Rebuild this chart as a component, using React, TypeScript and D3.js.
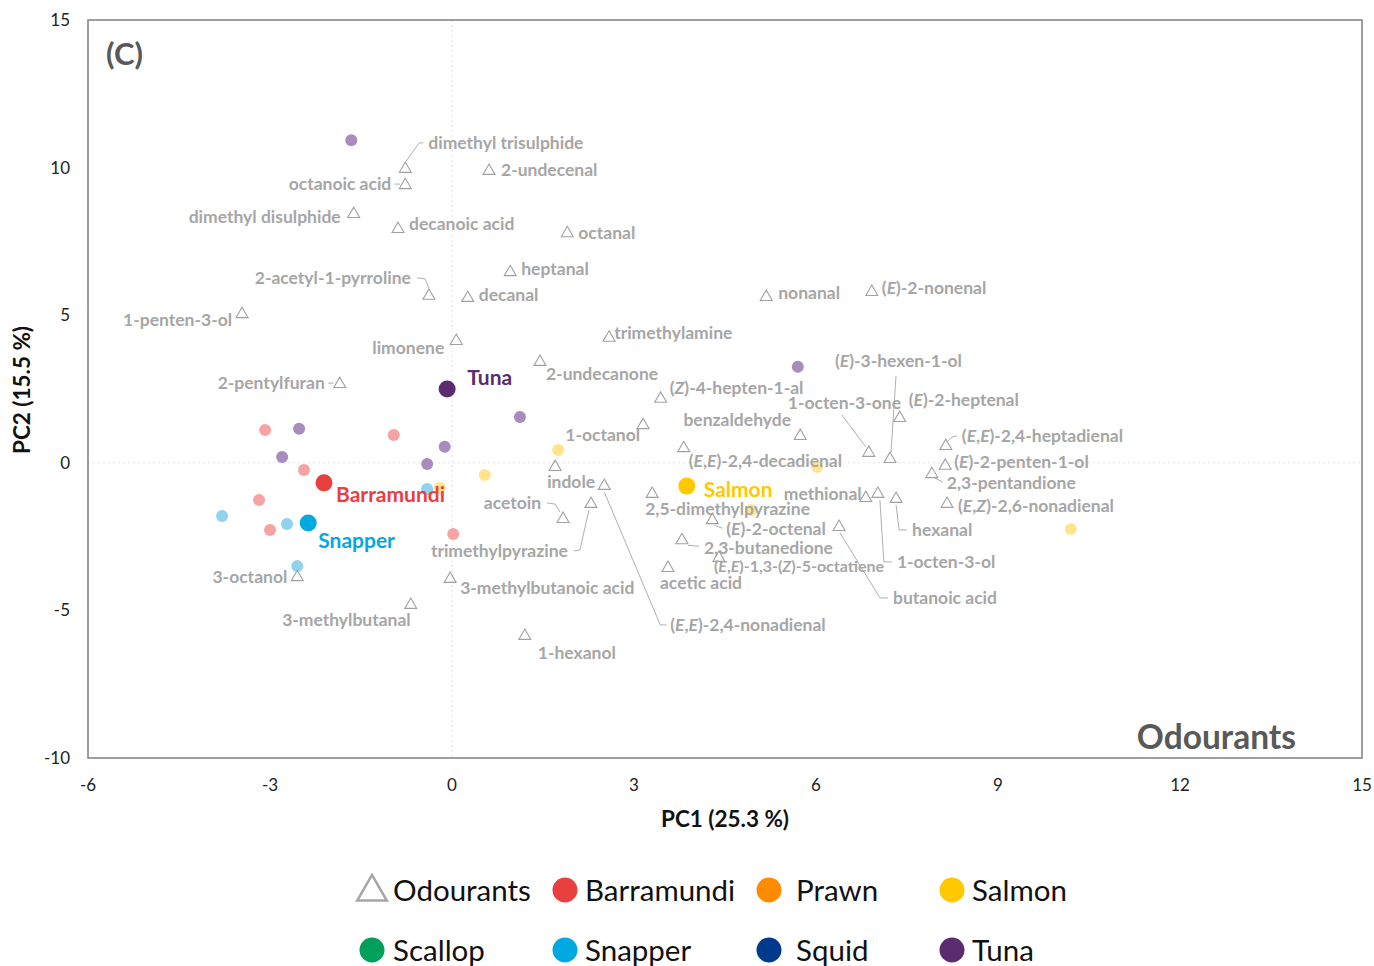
import React from "react";
import * as d3 from "d3";

// ---------- data ----------
const odourNames = [
  "dimethyl trisulphide", "octanoic acid", "2-undecenal", "dimethyl disulphide", "decanoic acid",
  "octanal", "heptanal", "2-acetyl-1-pyrroline", "decanal", "1-penten-3-ol",
  "nonanal", "(E)-2-nonenal", "limonene", "trimethylamine", "2-undecanone",
  "2-pentylfuran", "(Z)-4-hepten-1-al", "(E)-3-hexen-1-ol", "1-octen-3-one", "(E)-2-heptenal",
  "benzaldehyde", "(E,E)-2,4-heptadienal", "(E)-2-penten-1-ol", "2,3-pentandione", "(E,Z)-2,6-nonadienal",
  "hexanal", "1-octen-3-ol", "methional", "butanoic acid", "1-octanol",
  "(E,E)-2,4-decadienal", "indole", "(E,E)-2,4-nonadienal", "acetoin", "trimethylpyrazine",
  "2,5-dimethylpyrazine", "(E)-2-octenal", "2,3-butanedione", "(E,E)-1,3-(Z)-5-octatiene", "acetic acid",
  "3-octanol", "3-methylbutanoic acid", "3-methylbutanal", "1-hexanol",
];
const odourPC1 = [
  -0.77, -0.77, 0.61, -1.62, -0.89,
  1.90, 0.96, -0.38, 0.26, -3.46,
  5.18, 6.92, 0.07, 2.59, 1.45,
  -1.85, 3.44, 7.22, 6.87, 7.38,
  5.74, 8.14, 8.13, 7.91, 8.16,
  7.32, 7.02, 6.82, 6.38, 3.15,
  3.82, 1.70, 2.51, 1.83, 2.29,
  3.30, 4.29, 3.79, 4.40, 3.56,
  -2.55, -0.03, -0.68, 1.20,
];
const odourPC2 = [
  9.99, 9.44, 9.92, 8.46, 7.95,
  7.81, 6.49, 5.69, 5.62, 5.07,
  5.65, 5.82, 4.16, 4.27, 3.45,
  2.70, 2.20, 0.16, 0.37, 1.55,
  0.94, 0.60, -0.07, -0.35, -1.36,
  -1.19, -1.02, -1.16, -2.14, 1.31,
  0.53, -0.11, -0.75, -1.87, -1.36,
  -1.02, -1.91, -2.59, -3.19, -3.53,
  -3.84, -3.90, -4.78, -5.83,
];

const groupNames = ["Barramundi", "Snapper", "Salmon", "Tuna"];
const groupPC1 = [-2.11, -2.37, 3.87, -0.08];
const groupPC2 = [-0.68, -2.04, -0.79, 2.50];

const barramundiPC1 = [-3.08, -0.96, -2.44, -3.18, -3.0, 0.02];
const barramundiPC2 = [1.11, 0.94, -0.24, -1.26, -2.28, -2.41];
const snapperPC1 = [-3.79, -2.72, -2.55, -0.41];
const snapperPC2 = [-1.8, -2.07, -3.5, -0.89];
const salmonPC1 = [1.75, 0.54, -0.2, 6.02, 4.93, 10.2];
const salmonPC2 = [0.43, -0.41, -0.85, -0.14, -1.6, -2.24];
const tunaPC1 = [-1.66, 5.7, 1.12, -2.52, -2.8, -0.12, -0.41];
const tunaPC2 = [10.93, 3.25, 1.55, 1.15, 0.2, 0.54, -0.04];

const xTicks = [-6, -3, 0, 3, 6, 9, 12, 15];
const yTicks = [-10, -5, 0, 5, 10, 15];

const legendNames = ["Odourants", "Barramundi", "Prawn", "Salmon", "Scallop", "Snapper", "Squid", "Tuna"];

// ---------- styling / layout (not data) ----------
const W = 1374, H = 966;
const PL = 88, PT = 20, PW = 1274, PH = 738;
const FONT = "Lato, 'Open Sans', sans-serif";
const GRAY = "#a6a6a6";

const groupColor: Record<string, string> = {
  Barramundi: "#e8403f", Snapper: "#00a9e0", Salmon: "#ffc800", Tuna: "#5b2c6f",
  Prawn: "#ff8c00", Scallop: "#00a05a", Squid: "#003a8c",
};
const lightColor: Record<string, string> = {
  Barramundi: "#f8a3a3", Snapper: "#8fd3ef", Salmon: "#ffe48c", Tuna: "#a98bbd",
};
// label placement relative to triangle (px): dx, dy, anchor, optional leader polyline (relative px), font size
type LP = { dx: number; dy: number; a?: "start" | "end" | "middle"; lead?: [number, number][]; fs?: number };
const labelPlace: LP[] = [
  { dx: 23, dy: -25, lead: [[18, -25], [14, -25], [1, -7]] },
  { dx: -14, dy: 0, a: "end", lead: [[-11, 0], [-5, 0]] },
  { dx: 12, dy: 0 },
  { dx: -13, dy: 4, a: "end" },
  { dx: 11, dy: -4 },
  { dx: 11, dy: 0 },
  { dx: 11, dy: -3 },
  { dx: -18, dy: -17, a: "end", lead: [[-12, -17], [-4, -16], [0, -7]] },
  { dx: 11, dy: -2 },
  { dx: -10, dy: 7, a: "end" },
  { dx: 12, dy: -3 },
  { dx: 10, dy: -3 },
  { dx: -12, dy: 8, a: "end" },
  { dx: 5, dy: -4 },
  { dx: 6, dy: 13 },
  { dx: -15, dy: 0, a: "end", lead: [[-12, 0], [-6, 0]] },
  { dx: 9, dy: -10 },
  { dx: -55, dy: -97, lead: [[6, -82], [1, -6]] },
  { dx: -81, dy: -49, lead: [[-27, -37], [-3, -5]] },
  { dx: 9, dy: -17 },
  { dx: -63, dy: -15, a: "middle" },
  { dx: 16, dy: -9, lead: [[11, -9], [6, -8], [1, -3]] },
  { dx: 9, dy: -3 },
  { dx: 15, dy: 10, lead: [[3, 5], [11, 9]] },
  { dx: 11, dy: 3 },
  { dx: 16, dy: 32, lead: [[0, 7], [3, 32], [11, 32]] },
  { dx: 19, dy: 69, lead: [[2, 7], [6, 69], [14, 69]] },
  { dx: -4, dy: -3, a: "end" },
  { dx: 54, dy: 72, lead: [[1, 7], [41, 72], [49, 72]] },
  { dx: -3, dy: 11, a: "end" },
  { dx: 5, dy: 14 },
  { dx: -8, dy: 16 },
  { dx: 66, dy: 140, lead: [[0, 7], [56, 140], [62, 140]] },
  { dx: -22, dy: -15, a: "end", lead: [[-16, -15], [-8, -14], [-3, -6]] },
  { dx: -23, dy: 48, a: "end", lead: [[-17, 48], [-11, 47], [-2, 7]] },
  { dx: -7, dy: 16 },
  { dx: 14, dy: 10, lead: [[2, 6], [10, 9]] },
  { dx: 22, dy: 8, lead: [[6, 6], [17, 7]] },
  { dx: -5, dy: 9, fs: 16 },
  { dx: -8, dy: 16 },
  { dx: -10, dy: 1, a: "end" },
  { dx: 10, dy: 10 },
  { dx: 0, dy: 16, a: "end" },
  { dx: 13, dy: 18 },
];
const groupLabelOffset: [number, number][] = [[12, 12], [10, 17], [17, 3], [20, -12]];

function renderName(name: string) {
  const parts = name.split(/(?<=\(|,)([EZ])(?=\)|,)/);
  return parts.map((p, i) =>
    (p === "E" || p === "Z") && i % 2 === 1 ? (
      <tspan key={i} fontStyle="italic">{p}</tspan>
    ) : (
      <tspan key={i}>{p}</tspan>
    )
  );
}

export default function App() {
  const x = d3.scaleLinear().domain([-6, 15]).range([PL, PL + PW]);
  const y = d3.scaleLinear().domain([-10, 15]).range([PT + PH, PT]);
  const tri = d3.symbol().type(d3.symbolTriangle).size(62)();
  const line = d3.line();

  const smallSets = [
    { g: "Barramundi", xs: barramundiPC1, ys: barramundiPC2 },
    { g: "Snapper", xs: snapperPC1, ys: snapperPC2 },
    { g: "Salmon", xs: salmonPC1, ys: salmonPC2 },
    { g: "Tuna", xs: tunaPC1, ys: tunaPC2 },
  ];

  const legendX = [372, 565, 769, 952];
  const legendTextX = [393, 585, 796, 972];
  const legendY = [890, 950];

  return (
    <svg width={W} height={H} style={{ position: "absolute", left: 0, top: 0, background: "#fff" }} fontFamily={FONT}>
      <rect x={0} y={0} width={W} height={H} fill="#fff" />
      <line x1={x(0)} x2={x(0)} y1={PT} y2={PT + PH} stroke="#e3e3e3" strokeDasharray="2,3" />
      <line x1={PL} x2={PL + PW} y1={y(0)} y2={y(0)} stroke="#e3e3e3" strokeDasharray="2,3" />
      <rect x={PL} y={PT} width={PW} height={PH} fill="none" stroke="#7f7f7f" strokeWidth={1.5} />
      {xTicks.map((t) => (
        <text key={"x" + t} x={x(t)} y={PT + PH + 33} textAnchor="middle" fontSize={17} fill="#222">
          {t}
        </text>
      ))}
      {yTicks.map((t) => (
        <text key={"y" + t} x={PL - 18} y={y(t) + 6} textAnchor="end" fontSize={17} fill="#222">
          {t}
        </text>
      ))}
      <text x={725} y={827} textAnchor="middle" fontSize={22.5} fontWeight="bold" fill="#111">
        PC1 (25.3 %)
      </text>
      <text transform={`translate(30,390) rotate(-90)`} textAnchor="middle" fontSize={22.5} fontWeight="bold" fill="#111">
        PC2 (15.5 %)
      </text>
      <text x={106} y={65} fontSize={31} fontWeight="bold" fill="#595959">(C)</text>
      <text x={1296} y={749} textAnchor="end" fontSize={33.5} fontWeight="bold" fill="#595959">Odourants</text>

      {smallSets.map((s) =>
        s.xs.map((v, i) => (
          <circle key={s.g + i} cx={x(v)} cy={y(s.ys[i])} r={6} fill={lightColor[s.g]} />
        ))
      )}

      {odourNames.map((n, i) => {
        const px = x(odourPC1[i]);
        const py = y(odourPC2[i]);
        const lp = labelPlace[i];
        return (
          <g key={n}>
            {lp.lead && (
              <path
                d={line(lp.lead.map(([a, b]) => [px + a, py + b]) as [number, number][]) || ""}
                fill="none"
                stroke="#9a9a9a"
                strokeWidth={0.8}
              />
            )}
            <path d={tri || ""} transform={`translate(${px},${py + 1})`} fill="none" stroke="#a0a0a0" strokeWidth={1.1} />
            <text x={px + lp.dx} y={py + lp.dy} dy="0.36em" textAnchor={lp.a || "start"} fontSize={lp.fs || 17.5} fontWeight="bold" fill={GRAY}>
              {renderName(n)}
            </text>
          </g>
        );
      })}

      {groupNames.map((g, i) => (
        <g key={g}>
          <circle cx={x(groupPC1[i])} cy={y(groupPC2[i])} r={8.5} fill={groupColor[g]} />
          <text
            x={x(groupPC1[i]) + groupLabelOffset[i][0]}
            y={y(groupPC2[i]) + groupLabelOffset[i][1]}
            dy="0.36em"
            fontSize={21}
            fontWeight="bold"
            fill={groupColor[g]}
          >
            {g}
          </text>
        </g>
      ))}

      {legendNames.map((n, i) => {
        const row = Math.floor(i / 4);
        const col = i % 4;
        const cy = legendY[row];
        return (
          <g key={n}>
            {n === "Odourants" ? (
              <path
                d={d3.symbol().type(d3.symbolTriangle).size(380)() || ""}
                transform={`translate(${legendX[col]},${cy + 2})`}
                fill="none"
                stroke="#a6a6a6"
                strokeWidth={2.5}
              />
            ) : (
              <circle cx={legendX[col]} cy={cy} r={12.5} fill={groupColor[n]} />
            )}
            <text x={legendTextX[col]} y={cy} dy="0.36em" fontSize={29.5} fill="#111">
              {n}
            </text>
          </g>
        );
      })}
    </svg>
  );
}
